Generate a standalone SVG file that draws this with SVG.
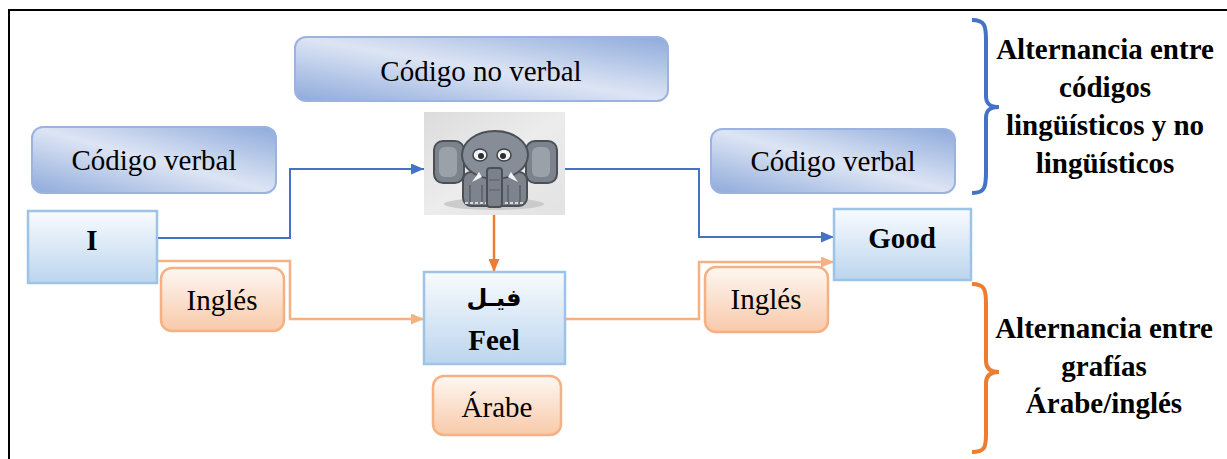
<svg xmlns="http://www.w3.org/2000/svg" width="1227" height="459" viewBox="0 0 1227 459">
  <defs>
    <style>
      .lbl { font-family: "Liberation Serif", "DejaVu Serif", serif; font-size: 29px; fill: #000; text-anchor: middle; }
      .bold { font-weight: bold; }
      .arabic { font-family: "DejaVu Sans", sans-serif; font-weight: bold; font-size: 24px; fill: #000; text-anchor: middle; }
      .code { fill: url(#gCode); stroke: #9cb3e0; stroke-width: 2; }
      .word { fill: url(#gWord); stroke: #9dc3e6; stroke-width: 2.5; }
      .lang { fill: url(#gLang); stroke: #f4b183; stroke-width: 2.5; }
      .blue { fill: none; stroke: #4472c4; stroke-width: 2; }
      .peach { fill: none; stroke: #f4b183; stroke-width: 2.5; }
      .amber { fill: none; stroke: #ed7d31; stroke-width: 2.5; }
    </style>
    <linearGradient id="gCode" x1="0" y1="1" x2="1" y2="0">
      <stop offset="0" stop-color="#8eaadb"/>
      <stop offset="0.5" stop-color="#dde5f4"/>
      <stop offset="1" stop-color="#8eaadb"/>
    </linearGradient>
    <linearGradient id="gWord" x1="0" y1="0" x2="0" y2="1">
      <stop offset="0" stop-color="#f8fbfe"/>
      <stop offset="1" stop-color="#bcd5ee"/>
    </linearGradient>
    <linearGradient id="gLang" x1="0" y1="0" x2="0" y2="1">
      <stop offset="0" stop-color="#fef7f2"/>
      <stop offset="1" stop-color="#f8c9a9"/>
    </linearGradient>
    <linearGradient id="gPhoto" x1="0" y1="0" x2="1" y2="1">
      <stop offset="0" stop-color="#dcdcdc"/>
      <stop offset="0.5" stop-color="#ececec"/>
      <stop offset="1" stop-color="#e2e2e2"/>
    </linearGradient>
    <marker id="mBlue" viewBox="0 0 10 10" refX="10" refY="5" markerWidth="13" markerHeight="11" orient="auto" markerUnits="userSpaceOnUse" preserveAspectRatio="none">
      <path d="M0,0 L10,5 L0,10 z" fill="#4472c4"/>
    </marker>
    <marker id="mPeach" viewBox="0 0 10 10" refX="10" refY="5" markerWidth="13" markerHeight="11" orient="auto" markerUnits="userSpaceOnUse" preserveAspectRatio="none">
      <path d="M0,0 L10,5 L0,10 z" fill="#f4b183"/>
    </marker>
    <marker id="mAmber" viewBox="0 0 10 10" refX="10" refY="5" markerWidth="13" markerHeight="11" orient="auto" markerUnits="userSpaceOnUse" preserveAspectRatio="none">
      <path d="M0,0 L10,5 L0,10 z" fill="#ed7d31"/>
    </marker>
  </defs>

  <rect width="1227" height="459" fill="#fff"/>
  <!-- page frame: top and left rules -->
  <path d="M9,462 V10 H1230" fill="none" stroke="#000" stroke-width="2"/>

  <!-- connectors -->
  <g id="connectors">
    <path class="blue" d="M157,238 H290 V169 H424" marker-end="url(#mBlue)"/>
    <path class="blue" d="M565,169 H699 V237 H834" marker-end="url(#mBlue)"/>
    <path class="peach" d="M157,261 H290 V319 H424" marker-end="url(#mPeach)"/>
    <path class="peach" d="M565,319 H699 V262 H834" marker-end="url(#mPeach)"/>
    <path class="amber" d="M494,215 V272" marker-end="url(#mAmber)"/>
  </g>

  <g id="code-nonverbal">
    <rect class="code" x="295" y="37" width="373" height="64" rx="11"/>
    <text class="lbl" x="481" y="81">Código no verbal</text>
  </g>

  <g id="code-verbal-left">
    <rect class="code" x="32" y="127" width="244" height="66" rx="11"/>
    <text class="lbl" x="154" y="170">Código verbal</text>
  </g>

  <g id="code-verbal-right">
    <rect class="code" x="711" y="129" width="244" height="64" rx="11"/>
    <text class="lbl" x="833" y="171">Código verbal</text>
  </g>

  <!-- elephant picture -->
  <g id="elephant">
    <rect x="424" y="112" width="141" height="103" fill="url(#gPhoto)"/>
    <ellipse cx="494" cy="204" rx="50" ry="6" fill="#c4c4c4" opacity="0.8"/>
    <!-- ears -->
    <rect x="434" y="141" width="30" height="42" rx="9" fill="#7d838c" stroke="#4b5058" stroke-width="2"/>
    <rect x="526" y="141" width="31" height="42" rx="9" fill="#7d838c" stroke="#4b5058" stroke-width="2"/>
    <rect x="439" y="147" width="18" height="30" rx="6" fill="#9ba1a9"/>
    <rect x="532" y="147" width="18" height="30" rx="6" fill="#9ba1a9"/>
    <!-- body and legs -->
    <rect x="463" y="172" width="64" height="34" rx="8" fill="#7e848d" stroke="#4b5058" stroke-width="2"/>
    <path d="M470,185 V205 M482,185 V205 M508,185 V205 M520,185 V205" stroke="#5a5f67" stroke-width="1.5"/>
    <path d="M465,203 H525" stroke="#d8d8d8" stroke-width="2" stroke-dasharray="3 2"/>
    <!-- head -->
    <ellipse cx="495" cy="155" rx="33" ry="24" fill="#878d96" stroke="#4b5058" stroke-width="2"/>
    <!-- eyes -->
    <ellipse cx="480" cy="155" rx="7" ry="6" fill="#f4f4f4" stroke="#3d4148" stroke-width="1.5"/>
    <ellipse cx="504" cy="155" rx="7" ry="6" fill="#f4f4f4" stroke="#3d4148" stroke-width="1.5"/>
    <circle cx="481" cy="156" r="3" fill="#2b2e33"/>
    <circle cx="503" cy="156" r="3" fill="#2b2e33"/>
    <!-- tusks -->
    <path d="M479,172 L472,182 L482,177 z" fill="#f4f4f4"/>
    <path d="M511,172 L518,182 L508,177 z" fill="#f4f4f4"/>
    <!-- trunk -->
    <rect x="487" y="168" width="15" height="39" rx="3" fill="#7b818a" stroke="#4b5058" stroke-width="2"/>
    <path d="M489,180 H500 M489,190 H500" stroke="#5a5f67" stroke-width="1"/>
  </g>

  <g id="word-i">
    <rect class="word" x="28" y="211" width="129" height="72"/>
    <text class="lbl bold" x="92" y="250">I</text>
  </g>

  <g id="word-feel">
    <rect class="word" x="424" y="272" width="141" height="92"/>
    <text class="arabic" x="494" y="306">فيـل</text>
    <text class="lbl bold" x="494" y="350">Feel</text>
  </g>

  <g id="word-good">
    <rect class="word" x="834" y="209" width="137" height="71"/>
    <text class="lbl bold" x="902" y="248">Good</text>
  </g>

  <g id="lang-ingles-left">
    <rect class="lang" x="161" y="268" width="123" height="63" rx="11"/>
    <text class="lbl" x="222" y="310">Inglés</text>
  </g>

  <g id="lang-ingles-right">
    <rect class="lang" x="705" y="267" width="123" height="65" rx="11"/>
    <text class="lbl" x="766" y="309">Inglés</text>
  </g>

  <g id="lang-arabe">
    <rect class="lang" x="433" y="376" width="128" height="59" rx="11"/>
    <text class="lbl" x="497" y="417">Árabe</text>
  </g>

  <!-- braces and their captions -->
  <g id="brace-codes">
    <path d="M972,20 C985,20 986,26 986,40 V96 C986,104 990,107 999,107 C990,107 986,110 986,118 V172 C986,187 985,193 972,193" fill="none" stroke="#4472c4" stroke-width="4"/>
    <text class="lbl bold" x="1105" y="59">Alternancia entre</text>
    <text class="lbl bold" x="1105" y="97">códigos</text>
    <text class="lbl bold" x="1105" y="135">lingüísticos y no</text>
    <text class="lbl bold" x="1105" y="173">lingüísticos</text>
  </g>

  <g id="brace-scripts">
    <path d="M972,284 C985,284 986,290 986,304 V361 C986,368 990,372 999,372 C990,372 986,376 986,383 V434 C986,447 985,452 972,452" fill="none" stroke="#ed7d31" stroke-width="4"/>
    <text class="lbl bold" x="1104" y="338">Alternancia entre</text>
    <text class="lbl bold" x="1104" y="376">grafías</text>
    <text class="lbl bold" x="1104" y="413">Árabe/inglés</text>
  </g>
</svg>
